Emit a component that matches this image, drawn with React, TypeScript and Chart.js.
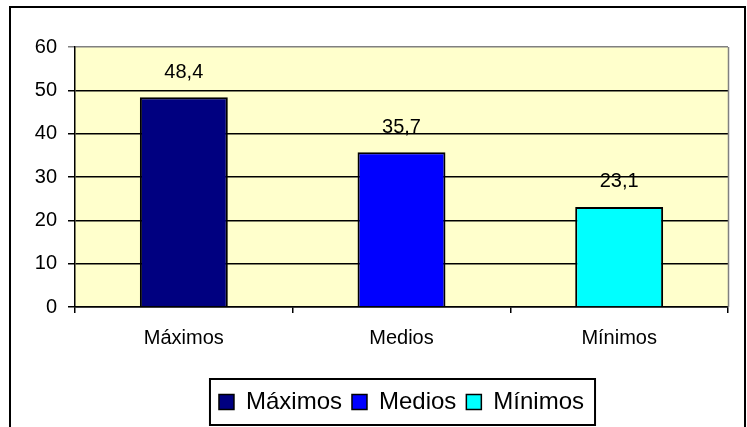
import React, { useEffect, useRef } from "react";
import { Chart, registerables } from "chart.js";

Chart.register(...registerables);

const categories = ["Máximos", "Medios", "Mínimos"];
const values = [48.4, 35.7, 23.1];
const barColors = ["#000080", "#0000FF", "#00FFFF"];
const yTicks = [0, 10, 20, 30, 40, 50, 60];

const FONT = "'Liberation Sans', Arial, sans-serif";

const plotBgPlugin = {
  id: "plotBg",
  beforeDraw(chart: any) {
    const { ctx, chartArea } = chart;
    ctx.save();
    ctx.fillStyle = "#FFFFCC";
    ctx.fillRect(chartArea.left, chartArea.top, chartArea.right - chartArea.left, chartArea.bottom - chartArea.top);
    ctx.restore();
  },
  afterDraw(chart: any) {
    const { ctx, chartArea } = chart;
    ctx.save();
    ctx.strokeStyle = "#808080";
    ctx.lineWidth = 1.5;
    ctx.beginPath();
    ctx.moveTo(chartArea.right + 0.5, chartArea.top);
    ctx.lineTo(chartArea.right + 0.5, chartArea.bottom);
    ctx.stroke();
    ctx.restore();
  },
};

const valueLabelPlugin = {
  id: "valueLabels",
  afterDatasetsDraw(chart: any) {
    const { ctx } = chart;
    const meta = chart.getDatasetMeta(0);
    const data = chart.data.datasets[0].data as number[];
    ctx.save();
    ctx.font = `20px ${FONT}`;
    ctx.fillStyle = "#000";
    ctx.textAlign = "center";
    ctx.textBaseline = "middle";
    meta.data.forEach((el: any, i: number) => {
      ctx.fillText(String(data[i]).replace(".", ","), el.x, el.y - 25);
    });
    ctx.restore();
  },
};

const legendBorderPlugin = {
  id: "legendBorder",
  afterDraw(chart: any) {
    const legend = chart.legend;
    if (!legend || !legend.legendHitBoxes || !legend.legendHitBoxes.length) return;
    const boxes = legend.legendHitBoxes;
    const first = boxes[0];
    const last = boxes[boxes.length - 1];
    const cy = first.top + first.height / 2;
    const { ctx } = chart;
    ctx.save();
    ctx.strokeStyle = "#000";
    ctx.lineWidth = 2;
    const left = first.left - 9;
    const right = last.left + last.width + 11;
    ctx.strokeRect(left, cy - 23, right - left, 46);
    ctx.restore();
  },
};

export default function App() {
  const canvasRef = useRef<HTMLCanvasElement | null>(null);

  useEffect(() => {
    const canvas = canvasRef.current;
    if (!canvas) return;
    const chart = new Chart(canvas, {
      type: "bar",
      data: {
        labels: categories,
        datasets: [
          {
            label: "Valores",
            data: values,
            backgroundColor: barColors,
            borderColor: "#000",
            borderWidth: 2,
            categoryPercentage: 1,
            barPercentage: 0.404,
          },
        ],
      },
      plugins: [plotBgPlugin, valueLabelPlugin, legendBorderPlugin],
      options: {
        animation: false,
        responsive: false,
        devicePixelRatio: 1,
        layout: { padding: { left: 0, right: 19, top: 47, bottom: 3 } },
        plugins: {
          tooltip: { enabled: false },
          legend: {
            position: "bottom",
            fullSize: false,
            onClick: () => {},
            labels: {
              font: { family: FONT, size: 24 },
              color: "#000",
              boxWidth: 15,
              boxHeight: 15,
              padding: 10,
              generateLabels: (ch: any) =>
                (ch.data.labels as string[]).map((lab: string, i: number) => ({
                  text: lab,
                  fillStyle: barColors[i],
                  strokeStyle: "#000",
                  lineWidth: 1.5,
                  hidden: false,
                  index: i,
                  fontColor: "#000",
                })),
            },
          },
        },
        scales: {
          x: {
            offset: true,
            grid: {
              offset: true,
              drawOnChartArea: false,
              drawTicks: true,
              tickLength: 6,
              color: "#000",
              lineWidth: 1.5,
            },
            border: { display: true, color: "#000", width: 1.5 },
            ticks: {
              font: { family: FONT, size: 20 },
              color: "#000",
              padding: 13,
              maxRotation: 0,
            },
            afterFit: (scale: any) => {
              scale.height = 73;
            },
          },
          y: {
            min: 0,
            max: 60,
            afterBuildTicks: (scale: any) => {
              scale.ticks = yTicks.map((v) => ({ value: v }));
            },
            grid: {
              color: (c: any) => (c.tick && c.tick.value === 60 ? "#808080" : "#000"),
              lineWidth: 1.5,
              drawTicks: true,
              tickLength: 7,
            },
            border: { display: true, color: "#000", width: 1.5 },
            ticks: {
              font: { family: FONT, size: 20 },
              color: "#000",
              padding: 11,
            },
            afterFit: (scale: any) => {
              scale.width = 75;
            },
          },
        },
      },
    } as any);
    return () => chart.destroy();
  }, []);

  return (
    <>
      <div
        style={{
          position: "absolute",
          left: 9,
          top: 6,
          width: 737,
          height: 421,
          boxSizing: "border-box",
          borderTop: "2px solid #000",
          borderLeft: "2px solid #000",
          borderRight: "2px solid #000",
          background: "#fff",
        }}
      />
      <canvas
        ref={canvasRef}
        width={747}
        height={427}
        style={{ position: "absolute", left: 0, top: 0, width: 747, height: 427 }}
      />
    </>
  );
}
